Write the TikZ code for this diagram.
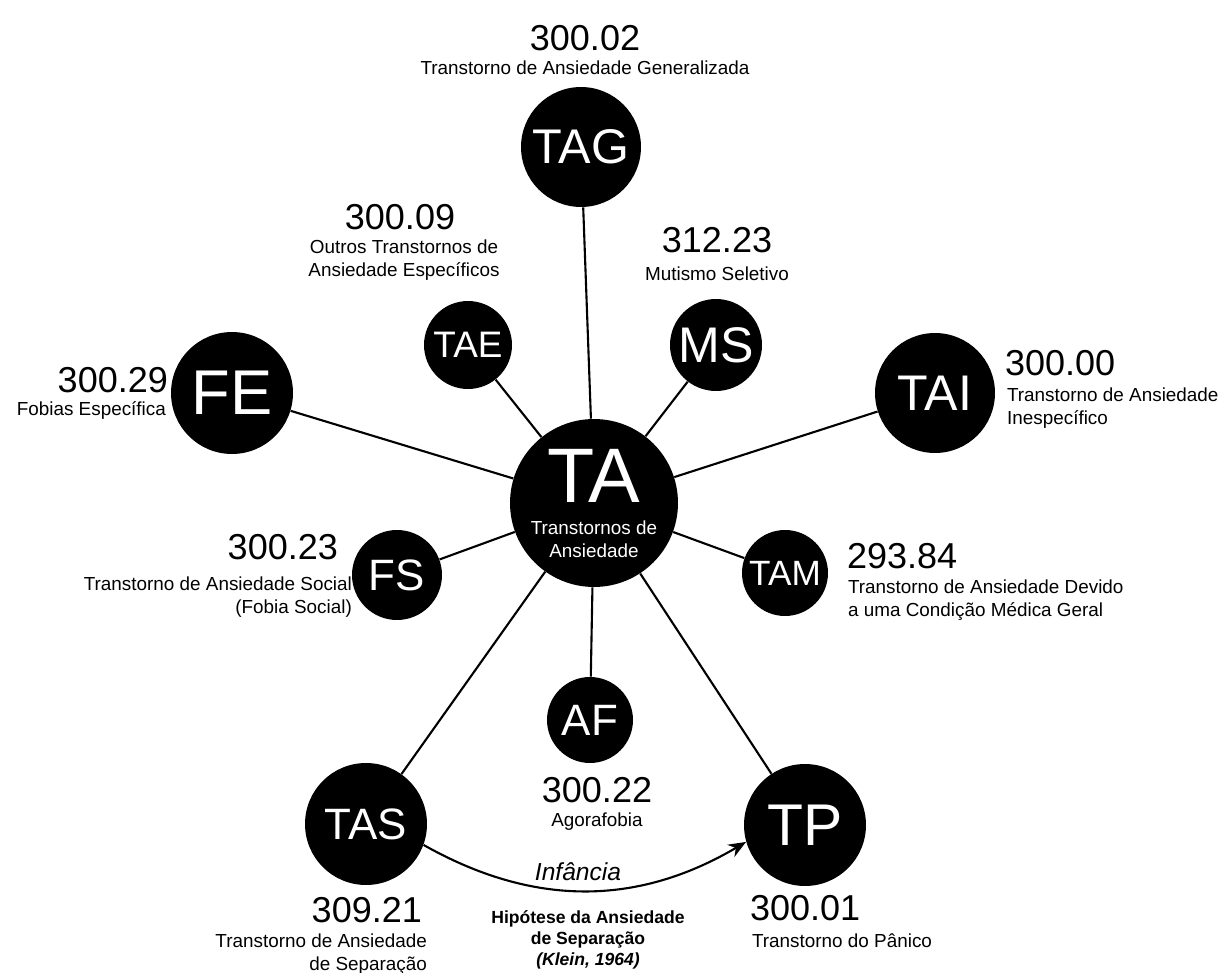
\documentclass[tikz,border=0pt]{standalone}
\usepackage{fontspec}
\setmainfont{Liberation Sans}
\usetikzlibrary{arrows.meta}

\begin{document}
\begin{tikzpicture}[x=0.02cm, y=-0.02cm,
    disorder/.style={circle, fill=black, text=white, inner sep=0pt},
    code/.style={font=\fontsize{20.5}{24}\selectfont, inner sep=1pt},
    desc/.style={font=\fontsize{10.75}{13}\selectfont, inner sep=1pt},
    link/.style={line width=1.2pt}]
    \useasboundingbox (0,0) rectangle (1225,973);

    % Central disorder
    \node[disorder, minimum size=3.36cm] (TA) at (594,503) {};
    \node[text=white, font=\fontsize{44}{44}\selectfont, inner sep=0pt] (TAname) at (594,476) {TA};
    \node[desc, text=white, align=center, inner sep=0pt] (TAsub) at (594,539) {Transtornos de\\Ansiedade};

    % Disorders
    \node[disorder, minimum size=2.4cm, font=\fontsize{27.7}{30}\selectfont] (TAG) at (581,147) {TAG};
    \node[disorder, minimum size=1.76cm, font=\fontsize{21}{24}\selectfont] (TAE) at (468,345) {TAE};
    \node[disorder, minimum size=1.84cm, font=\fontsize{28.5}{30}\selectfont] (MS) at (716,345) {MS};
    \node[disorder, minimum size=2.44cm, font=\fontsize{36}{40}\selectfont] (FE) at (232,393) {FE};
    \node[disorder, minimum size=2.4cm, font=\fontsize{28.5}{30}\selectfont] (TAI) at (935,393) {TAI};
    \node[disorder, minimum size=1.8cm, font=\fontsize{25}{28}\selectfont] (FS) at (397,575) {FS};
    \node[disorder, minimum size=1.72cm, font=\fontsize{20}{24}\selectfont] (TAM) at (785,573) {TAM};
    \node[disorder, minimum size=1.72cm, font=\fontsize{25}{28}\selectfont] (AF) at (590,720) {AF};
    \node[disorder, minimum size=2.44cm, font=\fontsize{25}{28}\selectfont] (TAS) at (366,824) {TAS};
    \node[disorder, minimum size=2.44cm, font=\fontsize{33.5}{36}\selectfont] (TP) at (805,825) {TP};

    % Links to the center
    \draw[link] (TA) -- (TAG);
    \draw[link] (TA) -- (TAE);
    \draw[link] (TA) -- (MS);
    \draw[link] (TA) -- (FE);
    \draw[link] (TA) -- (TAI);
    \draw[link] (TA) -- (FS);
    \draw[link] (TA) -- (TAM);
    \draw[link] (TA) -- (AF);
    \draw[link] (TA) -- (TAS);
    \draw[link] (TA) -- (TP);

    % Codes and names
    \node[code] (cTAG) at (585,38) {300.02};
    \node[desc] (dTAG) at (585,68) {Transtorno de Ansiedade Generalizada};
    \node[code] (cTAE) at (400,217) {300.09};
    \node[desc, align=center] (dTAE) at (404,260) {Outros Transtornos de\\Ansiedade Específicos};
    \node[code] (cMS) at (717,240) {312.23};
    \node[desc] (dMS) at (717,274) {Mutismo Seletivo};
    \node[code, anchor=east] (cFE) at (170,380) {300.29};
    \node[desc, anchor=east] (dFE) at (168,411) {Fobias Específica};
    \node[code, anchor=west] (cTAI) at (1003,363) {300.00};
    \node[desc, anchor=west, align=left] (dTAI) at (1005,408) {Transtorno de Ansiedade\\Inespecífico};
    \node[code, anchor=east] (cFS) at (340,547) {300.23};
    \node[desc, anchor=east, align=right] (dFS) at (354,597) {Transtorno de Ansiedade Social\\(Fobia Social)};
    \node[code, anchor=west] (cTAM) at (845,556) {293.84};
    \node[desc, anchor=west, align=left] (dTAM) at (846,600) {Transtorno de Ansiedade Devido\\a uma Condição Médica Geral};
    \node[code] (cAF) at (597,790) {300.22};
    \node[desc] (dAF) at (597,822) {Agorafobia};
    \node[code, anchor=east] (cTAS) at (424,910) {309.21};
    \node[desc, anchor=east, align=right] (dTAS) at (429,954) {Transtorno de Ansiedade\\de Separação};
    \node[code, anchor=west] (cTP) at (748,908) {300.01};
    \node[desc, anchor=west] (dTP) at (750,941) {Transtorno do Pânico};

    % Separation anxiety hypothesis
    \draw[link, -{Stealth[length=10pt, width=8pt]}] (TAS.-20) to[bend right=30] (TP.196);
    \node[font=\itshape\fontsize{14}{16}\selectfont] (infancia) at (578,872) {Infância};
    \node[desc, font=\bfseries, align=center] (klein) at (588,940) {Hipótese da Ansiedade\\de Separação\\\textit{(Klein, 1964)}};
\end{tikzpicture}
\end{document}
